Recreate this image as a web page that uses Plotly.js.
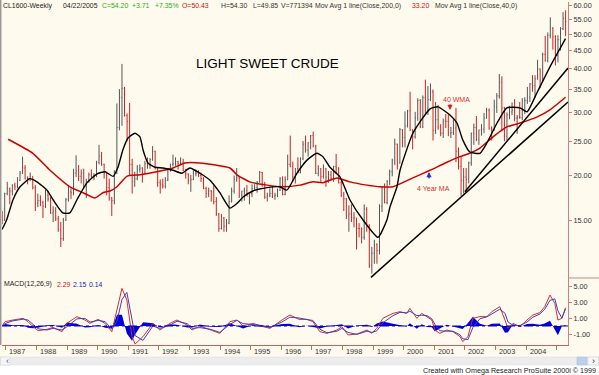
<!DOCTYPE html>
<html><head><meta charset="utf-8">
<script src="https://cdn.plot.ly/plotly-3.0.1.min.js"></script>
<style>html,body{margin:0;padding:0;background:#FFFAEE;}#chart{width:599px;height:375px;}</style>
</head><body><div id="chart"></div>
<script>
// ---- monthly bars, Nov 1986 .. Apr 2005 ----
const startYear = 1986, startMonth = 11;
const opens = [
15.2,15.0,
17.8,18.4,18.1,18.8,18.6,19.4,20.3,21.0,19.6,19.6,19.9,18.5,
16.7,17.0,16.8,16.4,17.6,17.2,15.7,15.9,15.1,14.1,13.3,15.0,
17.1,18.0,17.9,20.3,20.6,19.9,20.3,18.6,19.3,20.1,19.9,20.0,
21.8,22.7,21.5,20.3,18.5,17.3,17.0,20.3,27.3,33.2,35.2,29.5,
28.4,21.5,19.2,19.6,20.8,21.0,20.3,21.6,21.4,22.2,23.4,21.0,
19.1,18.9,18.7,19.4,20.9,21.5,21.6,21.9,21.6,21.7,20.7,20.2,
19.4,19.5,20.3,20.3,20.0,19.6,18.4,17.8,18.1,18.0,16.9,15.6,
14.2,15.2,14.4,14.7,16.9,18.1,19.5,19.7,17.6,18.1,18.2,17.5,
17.8,18.4,18.5,19.2,20.4,18.9,17.4,17.6,17.8,17.5,17.6,18.2,
19.6,17.7,19.5,21.5,21.2,19.8,20.9,20.4,22.3,24.5,23.6,24.8,
25.9,24.2,20.3,20.9,19.9,20.9,19.8,20.1,19.6,21.2,21.0,19.1,
17.6,17.2,15.4,15.6,15.2,15.2,14.2,14.2,13.4,16.1,14.4,11.2,
12.1,12.8,12.3,16.4,18.6,16.8,19.3,20.5,22.1,24.5,21.7,26.9,
25.6,27.6,30.4,26.9,25.7,29.0,32.5,27.4,33.1,30.8,32.7,34.4,
26.8,28.7,27.4,26.3,28.5,28.4,26.3,26.4,27.2,23.4,21.2,19.4,
19.8,19.5,21.7,26.3,27.3,25.3,26.9,27.0,29.0,30.5,27.2,26.9,
31.2,33.5,36.6,31.0,25.8,29.6,30.2,30.5,29.0,29.2,29.1,30.4,
32.5,33.1,36.2,35.8,37.4,39.9,37.1,43.8,42.1,49.6,51.8,49.1,
43.5,48.2,51.8,55.4];
const highs = [
15.9,17.9,
19.2,18.5,18.9,19.1,19.8,20.6,22.6,21.4,19.9,20.4,19.9,18.8,
17.8,17.6,17.0,18.3,18.1,17.4,16.4,16.3,15.4,14.8,15.2,17.3,
18.8,18.4,20.9,22.8,21.4,20.8,20.9,19.6,20.4,20.8,20.3,22.0,
24.4,23.3,21.6,20.5,19.6,17.4,20.7,31.9,35.0,41.2,35.5,29.9,
32.0,22.3,20.5,21.4,21.5,21.1,22.0,22.5,22.4,24.2,23.5,21.1,
19.5,19.6,19.8,21.0,21.6,22.9,22.5,22.0,22.5,22.3,20.9,20.3,
20.1,20.7,20.8,20.7,20.4,19.8,18.6,18.5,18.2,18.9,17.4,15.7,
15.6,15.3,15.1,17.6,18.5,20.0,21.0,19.9,18.1,18.5,18.8,17.8,
18.9,18.9,19.3,20.6,20.5,19.2,17.9,18.4,18.7,17.9,18.4,19.8,
19.9,19.9,22.9,25.9,21.9,21.0,22.5,22.5,25.0,25.9,24.8,26.0,
26.6,24.4,21.4,21.0,21.5,21.0,20.6,20.6,21.3,23.0,21.1,19.3,
18.0,17.3,16.5,16.6,15.8,15.2,14.7,14.3,16.6,16.3,14.6,12.6,
13.2,12.9,16.6,18.6,19.0,19.4,20.8,22.3,25.4,24.6,27.2,27.0,
30.3,30.6,34.4,27.0,30.2,33.0,32.8,33.6,37.2,35.7,36.3,34.9,
32.2,31.6,27.9,28.9,29.8,29.7,27.4,28.9,31.0,24.0,22.7,21.0,
21.0,21.9,26.4,28.0,29.4,26.9,27.9,30.0,31.0,30.9,27.5,32.7,
34.1,38.6,38.0,31.2,30.1,31.4,32.1,32.8,29.6,32.2,33.0,33.2,
35.5,36.4,38.3,38.3,42.3,40.0,44.3,49.4,50.5,55.7,52.3,49.6,
49.6,52.3,57.6,58.3];
const lows = [
14.6,14.9,
17.6,16.6,17.6,18.2,18.4,19.3,20.2,19.5,18.9,19.3,18.3,15.9,
16.3,16.4,15.2,16.2,16.9,15.6,14.8,14.9,13.9,12.6,13.1,14.9,
16.9,17.2,17.6,19.8,19.3,19.0,18.4,17.3,19.1,19.6,19.4,19.8,
21.5,21.3,19.6,17.6,17.0,15.4,16.6,20.2,26.8,27.6,29.3,25.0,
20.0,17.8,18.6,19.4,20.4,19.1,20.2,20.9,20.9,22.0,20.8,18.6,
17.8,18.4,18.4,19.3,20.5,21.2,21.3,20.8,21.4,20.6,19.6,18.9,
18.0,19.4,19.9,19.8,19.2,18.3,17.3,17.4,16.9,16.6,15.4,13.9,
14.1,13.9,13.9,14.6,16.8,17.8,19.2,17.3,16.9,17.0,17.5,16.6,
17.4,18.1,17.9,19.1,18.6,17.2,16.9,17.4,17.3,17.1,17.4,18.1,
17.6,17.6,19.4,21.1,19.2,19.0,20.3,20.3,22.1,23.2,22.6,23.7,
24.0,20.2,19.9,19.2,19.6,18.6,19.1,19.4,19.2,20.2,19.0,17.4,
15.9,15.1,13.9,14.8,14.3,12.4,13.4,12.9,13.2,13.9,11.0,10.6,
11.3,11.3,12.0,15.8,16.7,16.6,18.8,19.9,21.4,20.8,21.6,24.0,
24.0,27.3,26.7,23.7,25.4,28.5,27.2,27.2,29.8,29.6,32.4,25.1,
26.2,26.9,25.8,25.5,27.2,25.8,25.5,26.0,21.8,20.8,17.5,17.8,
17.9,19.0,21.3,24.4,25.0,24.4,25.9,26.3,28.9,26.9,25.1,26.7,
30.0,32.9,26.6,25.0,25.1,28.8,29.6,28.4,26.2,28.9,28.6,29.8,
31.8,32.2,34.4,33.2,37.2,35.2,36.6,41.8,41.6,48.6,45.2,40.8,
41.6,44.9,51.3,49.3];
const closes = [
15.0,17.8,
18.4,18.1,18.8,18.6,19.4,20.3,21.0,19.6,19.6,19.9,18.5,16.7,
17.0,16.8,16.4,17.6,17.2,15.7,15.9,15.1,14.1,13.3,15.0,17.1,
18.0,17.9,20.3,20.6,19.9,20.3,18.6,19.3,20.1,19.9,20.0,21.8,
22.7,21.5,20.3,18.5,17.3,17.0,20.3,27.3,33.2,35.2,29.5,28.4,
21.5,19.2,19.6,20.8,21.0,20.3,21.6,21.4,22.2,23.4,21.0,19.1,
18.9,18.7,19.4,20.9,21.5,21.6,21.9,21.6,21.7,20.7,20.2,19.4,
19.5,20.3,20.3,20.0,19.6,18.4,17.8,18.1,18.0,16.9,15.6,14.2,
15.2,14.4,14.7,16.9,18.1,19.5,19.7,17.6,18.1,18.2,17.5,17.8,
18.4,18.5,19.2,20.4,18.9,17.4,17.6,17.8,17.5,17.6,18.2,19.6,
17.7,19.5,21.5,21.2,19.8,20.9,20.4,22.3,24.5,23.6,24.8,25.9,
24.2,20.3,20.9,19.9,20.9,19.8,20.1,19.6,21.2,21.0,19.1,17.6,
17.2,15.4,15.6,15.2,15.2,14.2,14.2,13.4,16.1,14.4,11.2,12.1,
12.8,12.3,16.4,18.6,16.8,19.3,20.5,22.1,24.5,21.7,26.9,25.6,
27.6,30.4,26.9,25.7,29.0,32.5,27.4,33.1,30.8,32.7,34.4,26.8,
28.7,27.4,26.3,28.5,28.4,26.3,26.4,27.2,23.4,21.2,19.4,19.8,
19.5,21.7,26.3,27.3,25.3,26.9,27.0,29.0,30.5,27.2,26.9,31.2,
33.5,36.6,31.0,25.8,29.6,30.2,30.5,29.0,29.2,29.1,30.4,32.5,
33.1,36.2,35.8,37.4,39.9,37.1,43.8,42.1,49.6,51.8,49.1,43.5,
48.2,51.8,55.4,54.2];

// ---- moving averages (decimal years) ----
const ma40Years = [1986.87,1987.02,1987.23,1987.46,1987.78,1988.01,1988.34,1988.54,1988.86,1989.09,1989.32,1989.65,1989.97,1990.24,1990.50,1990.66,1990.82,1990.99,1991.22,1991.38,1991.48,1991.64,1991.87,1992.13,1992.46,1992.75,1993.01,1993.34,1993.67,1993.99,1994.32,1994.55,1994.75,1995.07,1995.53,1995.95,1996.18,1996.51,1996.84,1997.16,1997.36,1997.59,1997.92,1998.24,1998.67,1999.16,1999.45,1999.55,1999.78,1999.88,2000.30,2000.86,2001.12,2001.51,2001.74,2001.93,2002.16,2002.49,2002.72,2003.05,2003.37,2003.80,2004.03,2004.35,2004.78,2005.29];
const ma40Values = [14.1,15.0,17.1,18.6,19.6,19.2,18.2,17.1,15.7,15.7,17.1,19.1,20.2,20.5,19.9,21.1,23.6,25.5,26.3,25.7,23.6,21.7,21.1,21.0,20.7,20.3,21.0,20.3,19.4,17.9,16.2,16.7,17.4,18.1,18.5,18.6,18.2,20.3,22.1,23.1,22.6,21.1,19.8,17.1,15.0,13.4,15.0,16.3,18.6,20.7,26.3,30.8,31.2,29.6,28.1,25.2,23.3,23.1,24.7,28.1,31.0,31.0,30.2,34.1,40.4,48.5];
const ma200Years = [1987.07,1987.88,1988.44,1989.09,1989.52,1989.91,1990.17,1990.40,1990.63,1990.95,1991.38,1991.93,1992.46,1992.85,1993.34,1994.32,1994.55,1994.97,1995.53,1996.05,1996.61,1997.03,1997.36,1997.82,1998.24,1998.80,1999.22,1999.65,2000.30,2000.86,2001.41,2001.84,2002.16,2002.49,2002.92,2003.37,2003.80,2004.35,2004.78,2005.29];
const ma200Values = [25.3,23.1,20.7,18.6,17.9,17.3,17.9,18.1,18.6,19.9,20.1,20.5,21.0,21.7,21.7,21.0,20.1,19.2,18.8,18.6,18.8,19.2,19.1,19.7,19.2,18.8,18.6,18.6,19.7,20.7,21.8,22.6,23.1,23.9,25.7,27.4,28.1,29.2,30.6,33.2];

// ---- hand-drawn trend lines (end points) ----
const trendLongX = [1998.93, 2005.37], trendLongY = [10.35, 32.2];
const trendShortX = [2002.00, 2005.37], trendShortY = [18.0, 40.1];

// ---- MACD(12,26,9) ----
const macdYears = [1986.87,1986.97,1987.23,1987.56,1987.72,1987.88,1988.05,1988.34,1988.54,1988.83,1988.99,1989.32,1989.58,1989.75,1990.01,1990.24,1990.46,1990.63,1990.79,1990.95,1991.12,1991.22,1991.48,1991.80,1992.03,1992.36,1992.59,1992.92,1993.08,1993.34,1993.67,1993.99,1994.32,1994.55,1994.75,1995.07,1995.40,1995.63,1996.02,1996.28,1996.58,1996.84,1997.03,1997.26,1997.49,1997.82,1997.98,1998.18,1998.47,1998.80,1998.96,1999.12,1999.32,1999.65,1999.88,2000.10,2000.20,2000.43,2000.59,2000.76,2000.92,2001.02,2001.18,2001.41,2001.61,2001.84,2001.93,2002.10,2002.26,2002.49,2002.72,2002.88,2003.14,2003.31,2003.41,2003.57,2003.80,2004.03,2004.22,2004.45,2004.61,2004.78,2004.94,2005.04,2005.17,2005.29];
const macdLine = [0.0,0.54,0.75,0.96,0.54,-0.08,-0.58,-0.42,-0.17,-0.71,0.33,1.17,0.75,0.33,0.83,0.33,-0.71,2.0,4.7,3.25,-1.33,-2.25,-1.33,0.33,-0.5,0.33,0.75,0.12,-0.5,0.0,-0.5,-0.92,0.54,0.75,0.0,0.33,-0.08,-0.29,0.75,1.37,0.83,0.83,0.54,-0.71,-0.92,-0.5,-0.08,-1.12,-1.0,-0.5,-0.92,-0.29,0.96,1.58,1.79,1.58,2.2,0.96,1.58,1.17,0.75,-0.5,-0.92,-0.5,-0.71,-1.33,-1.96,-1.33,0.96,1.17,1.17,1.79,2.42,0.75,-0.29,0.33,-0.08,0.75,1.37,1.67,2.42,3.87,2.83,0.75,0.96,2.29];
const signalLine = [0.0,0.3,0.65,0.85,0.75,0.2,-0.35,-0.5,-0.3,-0.5,-0.1,0.9,0.95,0.5,0.7,0.55,-0.4,0.6,3.3,4.2,0.5,-1.2,-1.8,0.0,-0.3,0.1,0.6,0.3,-0.3,-0.2,-0.4,-0.8,0.2,0.7,0.3,0.2,0.05,-0.2,0.5,1.1,1.0,0.8,0.7,-0.4,-0.85,-0.65,-0.3,-0.8,-1.05,-0.65,-0.8,-0.6,0.4,1.3,1.7,1.65,1.85,1.3,1.35,1.3,0.9,0.2,-0.6,-0.65,-0.65,-1.1,-1.6,-1.7,-0.2,0.9,1.15,1.5,2.1,1.6,0.5,0.1,0.05,0.5,1.1,1.5,2.1,3.2,3.4,1.9,1.0,2.15];

const yearTicks = [1987,1988,1989,1990,1991,1992,1993,1994,1995,1996,1997,1998,1999,2000,2001,2002,2003,2004,2005];
const yearLabels = ['1987','1988','1989','1990','1991','1992','1993','1994','1995','1996','1997','1998','1999','2000','2001','2002','2003','2004',''];
const priceTicks = [15,20,25,30,35,40,45,50,55,60];
const macdTicks = [5,3,1,-1];

// ---- geometry helpers (pixels -> paper) ----
const W = 599, H = 375, ML = 2, MR = 31, MT = 2, MB = 30;
const PW = W - ML - MR, PH = H - MT - MB;
const px = x => (x - ML) / PW;
const py = y => (H - MB - y) / PH;
const split = py(278);

const FONT = 'Liberation Sans, Arial, sans-serif';
const CREAM = '#FFFAEE';

const barX = closes.map((_, i) => {
  const m = startMonth - 1 + i;
  return startYear + Math.floor(m / 12) + ((m % 12) + 0.5) / 12;
});
const hist = macdLine.map((v, i) => v - signalLine[i]);

const traces = [
  {type: 'ohlc', x: barX, open: opens, high: highs, low: lows, close: closes,
   xaxis: 'x', yaxis: 'y', tickwidth: 0.25, hoverinfo: 'skip',
   increasing: {line: {color: '#555555', width: 1}},
   decreasing: {line: {color: '#cc2020', width: 1}}},
  {type: 'scatter', mode: 'lines', x: ma200Years, y: ma200Values, xaxis: 'x', yaxis: 'y',
   line: {color: '#CC0000', width: 1.5, shape: 'spline', smoothing: 0.5}, hoverinfo: 'skip'},
  {type: 'scatter', mode: 'lines', x: ma40Years, y: ma40Values, xaxis: 'x', yaxis: 'y',
   line: {color: '#000000', width: 1.4, shape: 'spline', smoothing: 0.5}, hoverinfo: 'skip'},
  {type: 'scatter', mode: 'lines', x: trendLongX, y: trendLongY, xaxis: 'x', yaxis: 'y',
   line: {color: '#000000', width: 1.5}, hoverinfo: 'skip'},
  {type: 'scatter', mode: 'lines', x: trendShortX, y: trendShortY, xaxis: 'x', yaxis: 'y',
   line: {color: '#000000', width: 1.5}, hoverinfo: 'skip'},
  {type: 'scatter', mode: 'lines', x: macdYears, y: hist, xaxis: 'x', yaxis: 'y2',
   fill: 'tozeroy', fillcolor: '#0000DD', line: {width: 0, color: '#0000DD'}, hoverinfo: 'skip'},
  {type: 'scatter', mode: 'lines', x: macdYears, y: macdLine, xaxis: 'x', yaxis: 'y2',
   line: {color: '#D03030', width: 1}, hoverinfo: 'skip'},
  {type: 'scatter', mode: 'lines', x: macdYears, y: signalLine, xaxis: 'x', yaxis: 'y2',
   line: {color: '#4040C0', width: 1}, hoverinfo: 'skip'}
];

const small = {family: FONT, size: 7.3, color: '#333'};
const ann = [];
function txt(x, y, t, color, size, anchor) {
  ann.push({xref: 'paper', yref: 'paper', x: px(x), y: py(y), text: t, showarrow: false,
    xanchor: anchor || 'left', yanchor: 'middle', font: {family: FONT, size: size || 6.9, color: color}});
}
txt(1, 6, 'CL1600-Weekly', '#222');
txt(61, 6, '04/22/2005', '#222');
txt(100, 6, 'C=54.20', '#22B022');
txt(130, 6, '+3.71', '#22B022');
txt(153, 6, '+7.35%', '#22B022');
txt(180, 6, 'O=50.43', '#CC1111');
txt(219, 6, 'H=54.30', '#333');
txt(251, 6, 'L=49.85', '#333');
txt(279, 6, 'V=771394', '#333');
txt(313, 6, 'Mov Avg 1 line(Close,200,0)', '#333');
txt(410, 6, '33.20', '#CC1111');
txt(433, 6, 'Mov Avg 1 line(Close,40,0)', '#333');
txt(194, 63, 'LIGHT SWEET CRUDE', '#000', 13.5);
txt(441, 99, '40 WMA', '#CC3333', 7);
txt(415, 188, '4 Year MA', '#CC3333', 7);
txt(2, 284, 'MACD(12,26,9)', '#222');
txt(55, 284, '2.29', '#CC1111');
txt(71, 284, '2.15', '#2222BB');
txt(87, 284, '0.14', '#2222BB');
txt(598, 370, 'Created with Omega Research ProSuite 2000i \u00A9 1999', '#222', 7.2, 'right');
txt(3.5, 361, '\u2039', '#3060C0', 9);
txt(590, 361, '\u203A', '#222', 9);
yearTicks.forEach((yr, i) => {
  if (yearLabels[i]) ann.push({xref: 'x', yref: 'paper', x: yr, y: py(351), xshift: 1.5, text: yearLabels[i],
    showarrow: false, xanchor: 'left', yanchor: 'middle', font: small});
});
// arrows
ann.push({xref: 'paper', yref: 'paper', x: px(450), y: py(110), ax: 0, ay: -7, text: '', showarrow: true,
  arrowhead: 2, arrowsize: 0.8, arrowwidth: 1.3, arrowcolor: '#CC2222'});
ann.push({xref: 'paper', yref: 'paper', x: px(429), y: py(172), ax: 0, ay: 8, text: '', showarrow: true,
  arrowhead: 2, arrowsize: 0.8, arrowwidth: 1.3, arrowcolor: '#2233CC'});

const shapes = [
  {type: 'line', xref: 'x', yref: 'y2', x0: 1986.87, x1: 2005.37, y0: 0, y1: 0,
   line: {color: '#0000CC', width: 1, dash: 'dashdot'}},
  {type: 'line', xref: 'paper', yref: 'paper', x0: 1, x1: px(599), y0: split, y1: split,
   line: {color: '#D08080', width: 1}},
  {type: 'line', xref: 'paper', yref: 'paper', x0: px(0.7), x1: px(0.7), y0: py(0), y1: py(345),
   line: {color: '#999999', width: 1.5}},
  {type: 'rect', xref: 'paper', yref: 'paper', x0: px(0), x1: px(599), y0: py(375), y1: py(365),
   fillcolor: '#FFFFFF', line: {width: 0}},
  {type: 'rect', xref: 'paper', yref: 'paper', x0: px(0), x1: px(599), y0: py(365), y1: py(357),
   fillcolor: '#ECECEC', line: {color: '#DDDDDD', width: 0.5}},
  {type: 'rect', xref: 'paper', yref: 'paper', x0: px(0.5), x1: px(10), y0: py(365), y1: py(357),
   fillcolor: '#F6F6F6', line: {color: '#CCCCCC', width: 0.5}},
  {type: 'rect', xref: 'paper', yref: 'paper', x0: px(577), x1: px(587), y0: py(365), y1: py(357),
   fillcolor: '#BCD0EC', line: {color: '#A8BCDC', width: 0.5}},
  {type: 'rect', xref: 'paper', yref: 'paper', x0: px(588), x1: px(598.5), y0: py(365), y1: py(357),
   fillcolor: '#F6F6F6', line: {color: '#CCCCCC', width: 0.5}}
];

const layout = {
  width: W, height: H, margin: {l: ML, r: MR, t: MT, b: MB, pad: 0},
  paper_bgcolor: CREAM, plot_bgcolor: CREAM, showlegend: false,
  font: {family: FONT, size: 7.3, color: '#333'},
  xaxis: {domain: [0, 1], range: [1986.87, 2005.37], anchor: 'y2', showgrid: false, zeroline: false,
    showline: true, linecolor: '#C86060', linewidth: 1, ticks: 'outside', ticklen: 4, tickcolor: '#D07040',
    tickvals: yearTicks, showticklabels: false, rangeslider: {visible: false}, fixedrange: true},
  yaxis: {domain: [split, 1], type: 'log', range: [1.01304, 1.78893], anchor: 'x', side: 'right',
    showgrid: false, zeroline: false, showline: true, linecolor: '#D08080', linewidth: 1,
    ticks: 'outside', ticklen: 3, tickcolor: '#D08080', tickvals: priceTicks,
    ticktext: priceTicks.map(v => v.toFixed(2)), tickfont: small, fixedrange: true},
  yaxis2: {domain: [0, split], range: [-2.375, 6.0], anchor: 'x', side: 'right',
    showgrid: false, zeroline: false, showline: true, linecolor: '#D08080', linewidth: 1,
    ticks: 'outside', ticklen: 3, tickcolor: '#D08080', tickvals: macdTicks,
    ticktext: macdTicks.map(v => v.toFixed(2)), tickfont: small, fixedrange: true},
  annotations: ann, shapes: shapes
};
Plotly.newPlot('chart', traces, layout, {staticPlot: true, displayModeBar: false});
</script>
</body></html>
